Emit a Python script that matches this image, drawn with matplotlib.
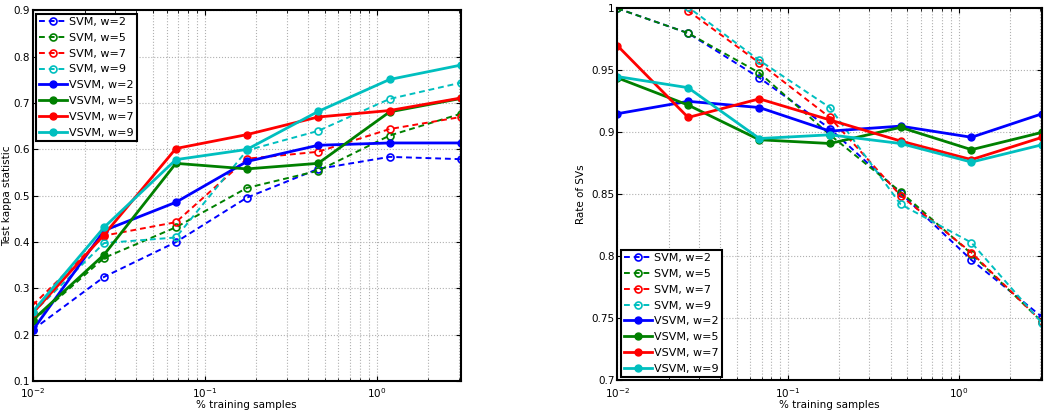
import numpy as np
import matplotlib
matplotlib.use('Agg')
import matplotlib.pyplot as plt
from matplotlib.ticker import LogLocator, NullFormatter

plt.rcParams.update({
    'font.family': 'DejaVu Sans',
    'font.size': 7.5,
    'xtick.direction': 'in',
    'ytick.direction': 'in',
})

# % training samples (log scale)
train_pct = [0.01, 0.026, 0.068, 0.176, 0.457, 1.19, 3.09]
labels = ['SVM, w=2', 'SVM, w=5', 'SVM, w=7', 'SVM, w=9',
          'VSVM, w=2', 'VSVM, w=5', 'VSVM, w=7', 'VSVM, w=9']

# test kappa statistic
kappa_svm_w2 = [0.211, 0.325, 0.400, 0.496, 0.558, 0.584, 0.579]
kappa_svm_w5 = [0.230, 0.366, 0.432, 0.517, 0.554, 0.630, 0.677]
kappa_svm_w7 = [0.264, 0.414, 0.443, 0.580, 0.595, 0.644, 0.670]
kappa_svm_w9 = [0.247, 0.398, 0.410, 0.598, 0.640, 0.709, 0.744]
kappa_vsvm_w2 = [0.210, 0.425, 0.486, 0.574, 0.609, 0.614, 0.614]
kappa_vsvm_w5 = [0.232, 0.373, 0.570, 0.558, 0.570, 0.681, 0.710]
kappa_vsvm_w7 = [0.247, 0.416, 0.602, 0.632, 0.670, 0.684, 0.711]
kappa_vsvm_w9 = [0.250, 0.432, 0.578, 0.600, 0.682, 0.751, 0.782]

# rate of support vectors
svs_svm_w2 = [1.000, 0.980, 0.944, 0.903, 0.851, 0.797, 0.751]
svs_svm_w5 = [1.000, 0.980, 0.948, 0.898, 0.852, 0.802, 0.747]
svs_svm_w7 = [1.040, 0.998, 0.956, 0.912, 0.849, 0.803, 0.747]
svs_svm_w9 = [1.045, 1.001, 0.958, 0.920, 0.842, 0.811, 0.746]
svs_vsvm_w2 = [0.915, 0.925, 0.920, 0.901, 0.905, 0.896, 0.915]
svs_vsvm_w5 = [0.944, 0.922, 0.894, 0.891, 0.904, 0.886, 0.900]
svs_vsvm_w7 = [0.970, 0.912, 0.927, 0.910, 0.893, 0.878, 0.896]
svs_vsvm_w9 = [0.945, 0.936, 0.895, 0.898, 0.891, 0.876, 0.890]

colors = ['#0000ff', '#008000', '#ff0000', '#00bfbf']


def draw(ax, svm_series, vsvm_series):
    for y, c, lab in zip(svm_series, colors, labels[:4]):
        ax.plot(train_pct, y, '--', color=c, lw=1.4, marker='o', ms=5,
                mfc='none', mec=c, mew=1.2, dashes=(3, 2), label=lab)
    for y, c, lab in zip(vsvm_series, colors, labels[4:]):
        ax.plot(train_pct, y, '-', color=c, lw=2.0, marker='o', ms=5,
                mfc=c, mec=c, label=lab)
    ax.set_xscale('log')
    ax.set_xlim(0.01, 3.09)
    ax.xaxis.set_major_locator(LogLocator(base=10))
    ax.xaxis.set_minor_locator(LogLocator(base=10, subs=np.arange(2, 10)))
    ax.xaxis.set_minor_formatter(NullFormatter())
    ax.grid(True, which='both', axis='x', ls=':', color='#b0b0b0', lw=0.8)
    ax.grid(True, which='major', axis='y', ls=':', color='#b0b0b0', lw=0.8)
    ax.tick_params(which='both', top=True, right=True, pad=2)
    ax.tick_params(axis='x', pad=4)
    for s in ax.spines.values():
        s.set_linewidth(1.5)
    ax.set_xlabel('% training samples', labelpad=0)


def add_legend(ax, loc):
    leg = ax.legend(loc=loc, fontsize=8, fancybox=False, framealpha=1,
                    edgecolor='black', borderaxespad=0.3, handlelength=2.5,
                    handletextpad=0.2, labelspacing=0.52, borderpad=0.3)
    leg.get_frame().set_linewidth(1.5)


fig = plt.figure(figsize=(10.57, 4.17), dpi=100)

ax1 = fig.add_axes([0.031, 0.086, 0.405, 0.889])
draw(ax1, [kappa_svm_w2, kappa_svm_w5, kappa_svm_w7, kappa_svm_w9],
     [kappa_vsvm_w2, kappa_vsvm_w5, kappa_vsvm_w7, kappa_vsvm_w9])
ax1.set_ylim(0.1, 0.9)
ax1.set_yticks(np.arange(0.1, 0.91, 0.1))
ax1.set_ylabel('Test kappa statistic', labelpad=1)
add_legend(ax1, 'upper left')

ax2 = fig.add_axes([0.584, 0.088, 0.402, 0.892])
draw(ax2, [svs_svm_w2, svs_svm_w5, svs_svm_w7, svs_svm_w9],
     [svs_vsvm_w2, svs_vsvm_w5, svs_vsvm_w7, svs_vsvm_w9])
ax2.set_ylim(0.7, 1.0)
ax2.set_yticks([0.7, 0.75, 0.8, 0.85, 0.9, 0.95, 1.0])
ax2.set_yticklabels(['0.7', '0.75', '0.8', '0.85', '0.9', '0.95', '1'])
ax2.set_ylabel('Rate of SVs', labelpad=4)
add_legend(ax2, 'lower left')

fig.savefig('out.png', dpi=100)
